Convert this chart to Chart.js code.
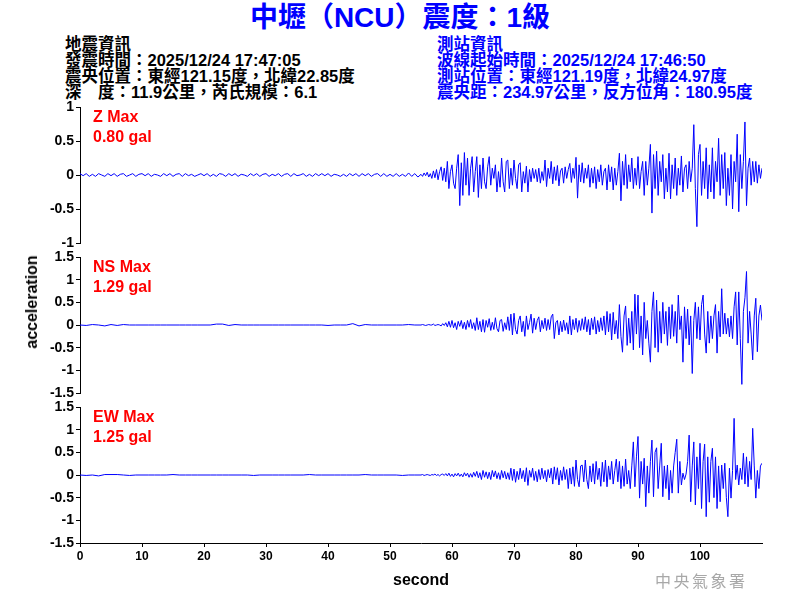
<!DOCTYPE html>
<html>
<head>
<meta charset="utf-8">
<script src="https://cdn.jsdelivr.net/npm/chart.js@4.4.1/dist/chart.umd.min.js"></script>
<style>
body { margin:0; background:#fff; width:800px; height:600px; position:relative; overflow:hidden;
       font-family:"Liberation Sans", "Noto Sans CJK TC", sans-serif; }
canvas { position:absolute; left:0; }
.txt { position:absolute; white-space:nowrap; }
#title { top:3px; left:0; width:800px; text-align:center; color:#0000ff; font-size:28px; font-weight:bold; line-height:30px; }
.info { top:36px; font-size:16.5px; line-height:16px; font-weight:bold; }
#info-left { left:65px; color:#000; }
#info-right { left:437px; color:#0000ff; }
.max { left:93px; color:#ff0000; font-size:16px; font-weight:bold; line-height:20px; }
#ylabel { left:32px; top:302px; transform:translate(-50%,-50%) rotate(-90deg); font-size:16px; font-weight:bold; color:#000; }
#agency { left:655px; top:570px; color:#a8a8a8; font-size:16px; line-height:20px; letter-spacing:2.5px; font-family:"Noto Sans CJK TC", sans-serif; }
</style>
</head>
<body>
<div id="title" class="txt">中壢（NCU）震度：1級</div>
<div id="info-left" class="txt info">地震資訊<br>發震時間：2025/12/24 17:47:05<br>震央位置：東經121.15度，北緯22.85度<br>深　度：11.9公里，芮氏規模：6.1</div>
<div id="info-right" class="txt info">測站資訊<br>波線起始時間：2025/12/24 17:46:50<br>測站位置：東經121.19度，北緯24.97度<br>震央距：234.97公里，反方位角：180.95度</div>

<canvas id="zChart" width="800" height="160" style="top:95px"></canvas>
<canvas id="nsChart" width="800" height="160" style="top:245px"></canvas>
<canvas id="ewChart" width="800" height="205" style="top:395px"></canvas>

<div class="txt max" style="top:107px">Z Max<br>0.80 gal</div>
<div class="txt max" style="top:257px">NS Max<br>1.29 gal</div>
<div class="txt max" style="top:407px">EW Max<br>1.25 gal</div>
<div id="ylabel" class="txt">acceleration</div>
<div id="agency" class="txt">中央氣象署</div>

<script>
// sampling: quiet part before 55 s, active part 55-110 s every 0.25 s
const activeStart = 55;
const activeStep = 0.25;
const zQuietStep = 0.5;
const quietStep = 1;
const xTicksMax = 100;

const zQuiet = [
  0.02, -0.01, 0.02, -0.02, 0.01, -0.02, 0.02, 0, -0.02, 0.02,
  -0.01, 0.02, -0.02, 0.01, 0.02, -0.02, 0, 0.02, -0.02, 0.01,
  0.02, -0.01, 0.02, -0.02, 0.01, 0, -0.02, 0.02, -0.01, 0.02,
  -0.02, 0.01, 0.02, -0.02, 0.02, -0.01, 0.01, -0.02, 0, 0.02,
  -0.01, 0.02, -0.02, 0.01, -0.02, 0.02, 0.01, -0.02, 0.02, -0.01,
  0.02, -0.02, 0.01, 0, -0.02, 0.02, -0.01, 0.02, -0.02, 0.01,
  0.02, -0.02, 0.01, -0.01, 0.02, -0.02, 0.01, 0.02, -0.02, 0.02,
  -0.01, 0, 0.02, -0.02, 0.01, -0.02, 0.02, -0.01, 0.02, -0.01,
  0.02, -0.02, 0.01, 0, -0.02, 0.01, -0.02, 0.02, -0.01, 0.02,
  -0.02, 0.02, -0.01, 0.02, -0.02, 0.01, 0.02, -0.02, 0.02, -0.02,
  0.01, -0.02, 0.02, -0.02, 0.01, -0.02, 0.03, -0.02, 0.02, -0.03
];
const zActive = [
  0.01, -0.02, 0.03, -0.01,
  0.04, -0.03, 0.02, -0.05,
  0.06, -0.04, 0.08, -0.07,
  0.05, 0.12, -0.08, 0.1,
  -0.1, 0.2, -0.2, 0.05,
  0.15, -0.12, -0.2, 0.1,
  0.3, -0.45, 0.18, -0.3,
  0.33, -0.15, 0.25, -0.3,
  0.1, 0.27, -0.25, 0.05,
  0.27, -0.33, 0.15, -0.2,
  0.25, -0.1, -0.2, 0.12,
  0.27, -0.15, 0.1, -0.05,
  0.15, -0.25, 0.05, -0.18,
  0.25, -0.1, -0.25, 0.2,
  0.22, -0.2, 0.1, -0.15,
  0.22, -0.05, -0.2, 0.15,
  0.18, -0.25, 0.05, -0.12,
  0.13, -0.25, 0.08, -0.1,
  0.1, -0.05, 0.08, -0.1,
  0.1, -0.12, 0.05, -0.08,
  0.22, -0.17, 0.1, -0.05,
  0.2, -0.13, 0.12, -0.08,
  0.14, -0.16, 0.06, 0.1,
  -0.12, 0.12, -0.05, 0.08,
  0.17, -0.11, 0.1, -0.05,
  0.26, -0.34, 0.15, -0.1,
  0.18, -0.12, 0.1, -0.05,
  0.15, -0.18, 0.1, -0.12,
  0.12, -0.2, 0.08, -0.1,
  0.15, -0.15, 0.05, 0.1,
  -0.22, 0.15, -0.1, 0.12,
  -0.22, 0.1, -0.15, 0.05,
  0.32, -0.38, 0.2, -0.15,
  0.3, -0.2, 0.15, -0.1,
  0.25, -0.2, 0.1, -0.15,
  0.27, -0.2, 0.05, 0.2,
  -0.3, 0.2, -0.15, 0.1,
  0.45, -0.56, 0.3, -0.2,
  0.35, -0.3, 0.2, -0.1,
  0.3, -0.35, 0.1, -0.25,
  0.32, -0.35, 0.15, -0.2,
  0.25, -0.3, 0.1, -0.15,
  0.28, -0.25, 0.1, 0.15,
  -0.2, 0.2, -0.1, 0.1,
  0.74, -0.2, -0.76, 0.3,
  0.45, -0.3, 0.2, -0.2,
  0.4, -0.35, 0.15, -0.25,
  0.4, -0.35, 0.2, -0.1,
  0.54, -0.3, 0.3, -0.2,
  0.33, -0.45, 0.1, -0.3,
  0.3, -0.5, 0.2, -0.1,
  0.6, -0.54, 0.3, -0.2,
  0.2, 0.78, -0.45, 0.1,
  0.25, -0.15, 0.2, -0.1,
  0.2, -0.12, 0.15, -0.05,
  0.1
];

const nsQuiet = [
  0, -0.01, 0.01, 0, -0.02, 0.01, -0.01, 0.01, 0, 0,
  0, 0, 0, 0, 0, 0, 0, 0, 0, 0,
  0, 0, 0.02, 0.02, -0.01, 0.01, 0, 0, 0, 0,
  0, 0, 0, 0, 0, 0, 0, 0, 0, 0,
  -0.01, 0, 0, 0, 0.03, -0.02, 0.01, 0, 0, 0,
  0, 0, 0, 0.01, 0
];
const nsActive = [
  0, 0.01, 0, -0.01,
  0, 0.01, 0, 0,
  0.02, -0.01, 0, 0.01,
  0, -0.02, 0.03, -0.01,
  0.05, -0.04, 0.08, -0.05,
  0.1, -0.06, 0.05, -0.1,
  0.08, -0.03, 0.1, -0.08,
  0.06, -0.1, 0.1, -0.05,
  0.12, -0.08, 0.05, -0.12,
  0.16, -0.1, 0.08, -0.15,
  0.12, -0.16, 0.1, -0.05,
  0.14, -0.12, 0.06, -0.1,
  0.16, -0.08, -0.15, 0.1,
  0.12, -0.14, 0.05, -0.1,
  0.18, -0.12, 0.24, -0.22,
  0.26, -0.1, -0.2, 0.1,
  0.2, -0.15, 0.08, -0.25,
  0.2, -0.1, 0.05, 0.24,
  -0.18, 0.15, -0.1, 0.1,
  0.18, -0.15, 0.1, -0.08,
  0.15, -0.12, 0.12, -0.1,
  0.18, 0.24, -0.3, 0.05,
  0.1, -0.22, 0.08, -0.15,
  0.11, -0.12, 0.05, -0.2,
  0.2, -0.22, 0.12, -0.1,
  0.15, -0.16, 0.1, -0.12,
  0.14, -0.1, 0.18, -0.15,
  0.12, -0.22, 0.15, -0.1,
  0.18, -0.2, 0.1, -0.15,
  0.16, -0.12, 0.2, -0.22,
  0.3, -0.15, 0.25, -0.33,
  0.28, -0.2, 0.1, -0.3,
  0.45, -0.25, -0.6, 0.2,
  0.42, -0.45, 0.15, -0.4,
  0.3, -0.55, 0.68, -0.2,
  0.66, -0.5, 0.2, -0.66,
  0.5, -0.3, 0.1, -0.4,
  -0.82, 0.3, 0.73, -0.5,
  0.55, -0.6, 0.3, -0.4,
  0.5, -0.2, 0.3, -0.45,
  0.4, -0.3, 0.45, -0.25,
  0.3, -0.4, 0.66, -0.1,
  0.2, -0.82, 0.4, -0.3,
  0.35, -0.44, 0.2, -1.07,
  0.1, 0.5, -0.3, 0.4,
  -0.33, 0.45, 0.66, -0.2,
  -0.62, 0.3, -0.4, 0.2,
  -0.3, 0.2, 0.45, -0.62,
  0.3, -0.26, 0.8, -0.2,
  0.26, -0.2, 0.15, -0.26,
  0.2, -0.3, 0.4, 0.73,
  -0.44, 0.73, -0.3, -1.31,
  0.3, 0.6, 1.18, -0.4,
  0.3, -0.2, -0.77, 0.2,
  0.59, -0.59, 0.2, 0.44,
  0.1
];

const ewQuiet = [
  0, -0.01, 0, -0.02, 0.01, 0.01, 0.01, 0, -0.01, 0,
  0, 0, 0, 0, 0, 0.01, 0, 0, 0, 0,
  0, 0, 0, 0, 0, 0, 0, 0, -0.01, 0,
  0, 0, 0, 0, 0, 0, 0, 0.01, 0, 0,
  0, 0, 0, 0, 0, 0, 0.01, 0, 0, 0,
  0, 0, -0.01, 0, 0
];
const ewActive = [
  0, 0.01, -0.01, 0,
  0.01, 0, -0.01, 0.01,
  0, 0.02, -0.01, 0.01,
  -0.02, 0.01, 0.02, -0.01,
  0.03, -0.02, 0.04, -0.03,
  0.02, -0.04, 0.03, -0.02,
  0.04, -0.03, 0.02, -0.04,
  0.05, -0.02, 0.04, -0.05,
  0.03, -0.05, 0.06, -0.03,
  0.08, -0.06, 0.05, -0.1,
  0.1, -0.05, 0.07, -0.08,
  0.06, -0.1, 0.1, -0.04,
  0.09, -0.08, 0.05, -0.1,
  0.1, -0.06, 0.08, -0.09,
  0.05, -0.1, 0.15, -0.12,
  0.13, -0.16, 0.08, -0.1,
  0.15, -0.08, 0.1, -0.15,
  0.16, -0.23, 0.1, -0.05,
  0.15, -0.12, 0.08, -0.15,
  0.12, -0.1, 0.15, -0.08,
  0.1, -0.15, 0.12, -0.06,
  0.15, -0.2, 0.18, -0.1,
  0.16, -0.22, 0.1, -0.12,
  0.18, -0.1, 0.12, -0.3,
  0.15, -0.2, 0.18, -0.25,
  0.33, -0.1, -0.26, 0.2,
  0.22, -0.15, 0.33, -0.1,
  -0.3, 0.2, -0.15, 0.25,
  -0.2, 0.3, -0.1, 0.15,
  -0.25, 0.28, -0.15, 0.33,
  -0.26, 0.2, -0.1, 0.3,
  -0.2, 0.1, 0.35, -0.15,
  0.3, -0.3, 0.2, -0.25,
  0.35, -0.2, 0.1, -0.3,
  0.2, 0.73, -0.26, 0.4,
  0.85, -0.51, 0.3, -0.2,
  0.37, -0.7, 0.2, -0.4,
  0.3, 0.77, -0.48, 0.5,
  0.6, -0.3, 0.2, 0.7,
  -0.48, 0.2, -0.3, 0.22,
  -0.55, 0.1, -0.4, 0.2,
  0.5, 0.79, -0.4, 0.3,
  -0.22, 0.04, -0.1, 0.02,
  0.3, 0.88, -0.59, 0.2,
  0.73, -0.66, 0.4, -0.3,
  0.7, -0.74, 0.3, 0.68,
  -0.92, 0.4, -0.6, 0.3,
  0.59, -0.5, 0.4, -0.74,
  0.2, -0.59, 0.22, -0.3,
  0.26, -0.5, -0.92, 0.15,
  -0.51, 0.1, 1.25, -0.1,
  0.22, -0.22, 0.15, -0.1,
  0.48, -0.2, 0.4, -0.26,
  0.3, -0.1, 1.03, 0.2,
  -0.51, 0.1, -0.3, 0.2,
  0.26
];

const FONT = '"Liberation Sans", Arial, sans-serif';
Chart.defaults.font.family = FONT;

function toPoints(quiet, qStep, active) {
  const pts = quiet.map((v, i) => ({ x: i * qStep, y: v }));
  active.forEach((v, i) => pts.push({ x: activeStart + i * activeStep, y: v }));
  return pts;
}

function makePanel(id, points, lim, showX) {
  const xScale = {
    type: 'linear', min: 0, max: 110, display: showX,
    afterBuildTicks: s => { s.ticks = s.ticks.filter(t => t.value <= xTicksMax); },
    ticks: { stepSize: 10, color: '#000', font: { size: 12, weight: 'bold' }, padding: 2, maxRotation: 0, autoSkip: false },
    grid: { drawOnChartArea: false, tickLength: 4, color: '#000' },
    border: { color: '#000' },
    title: { display: true, text: 'second', color: '#000', font: { size: 16, weight: 'bold' }, padding: { top: 10, bottom: 10 } }
  };
  if (showX) xScale.afterFit = s => { s.height = 57; };

  new Chart(document.getElementById(id), {
    type: 'line',
    data: {
      datasets: [{
        data: points,
        borderColor: '#0000ff',
        borderWidth: 1,
        pointRadius: 0,
        tension: 0,
        fill: false
      }]
    },
    options: {
      responsive: false,
      animation: false,
      events: [],
      layout: { padding: { top: 12, bottom: showX ? 0 : 12, left: 0, right: 38 } },
      plugins: { legend: { display: false }, tooltip: { enabled: false } },
      scales: {
        x: xScale,
        y: {
          min: -lim, max: lim,
          afterFit: s => { s.width = 80; },
          ticks: {
            stepSize: 0.5, autoSkip: false, color: '#000',
            font: { size: 14, weight: 'bold' }, padding: 2,
            callback: v => String(Math.round(v * 10) / 10)
          },
          grid: { drawOnChartArea: false, tickLength: 4, color: '#000' },
          border: { color: '#000' }
        }
      }
    }
  });
}

makePanel('zChart', toPoints(zQuiet, zQuietStep, zActive), 1, false);
makePanel('nsChart', toPoints(nsQuiet, quietStep, nsActive), 1.5, false);
makePanel('ewChart', toPoints(ewQuiet, quietStep, ewActive), 1.5, true);
</script>
</body>
</html>
